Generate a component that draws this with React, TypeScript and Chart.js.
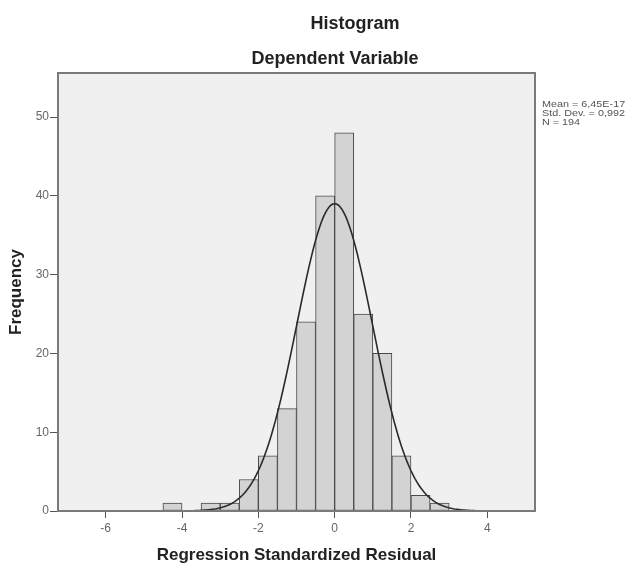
import React, { useEffect, useRef } from "react";
import { Chart, registerables } from "chart.js";

Chart.register(...registerables);

// ---- data ----
const binStarts = [-4.5, -4, -3.5, -3, -2.5, -2, -1.5, -1, -0.5, 0, 0.5, 1, 1.5, 2, 2.5];
const frequencies = [1, 0, 1, 1, 4, 7, 13, 24, 40, 48, 25, 20, 7, 2, 1];
const binWidth = 0.5;
const meanValue = 6.45e-17;
const stdDev = 0.992;
const nCount = 194;
const xTickValues = [-6, -4, -2, 0, 2, 4];
const yTickValues = [0, 10, 20, 30, 40, 50];
const xMin = -7.25;
const xMax = 5.25;
const yMax = 55.6;
const titleLines = ["Histogram", "Dependent Variable"];
const statLines = ["Mean = 6,45E-17", "Std. Dev. = 0,992", "N = 194"];
const xTitle = "Regression Standardized Residual";
const yTitle = "Frequency";

const FONT = "'Liberation Sans', Arial, sans-serif";

export default function App() {
  const ref = useRef<HTMLCanvasElement | null>(null);

  useEffect(() => {
    if (!ref.current) return;
    const barData = binStarts.map((s, i) => ({ x: s + binWidth / 2, y: frequencies[i] }));
    // normal curve defined by the stated mean / sd / N
    const curve: { x: number; y: number }[] = [];
    const steps = 250;
    for (let i = 0; i <= steps; i++) {
      const x = xMin + ((xMax - xMin) * i) / steps;
      const z = (x - meanValue) / stdDev;
      const y = (nCount * binWidth * Math.exp(-0.5 * z * z)) / (stdDev * Math.sqrt(2 * Math.PI));
      curve.push({ x, y });
    }

    const framePlugin = {
      id: "frame",
      beforeDraw(chart: any) {
        const { ctx, chartArea: a } = chart;
        ctx.save();
        ctx.fillStyle = "#ffffff";
        ctx.fillRect(0, 0, chart.width, chart.height);
        ctx.fillStyle = "#f0f0f0";
        ctx.fillRect(a.left, a.top, a.right - a.left, a.bottom - a.top);
        ctx.restore();
      },
      afterDraw(chart: any) {
        const { ctx, chartArea: a } = chart;
        ctx.save();
        ctx.strokeStyle = "#7a7a7a";
        ctx.lineWidth = 2;
        ctx.strokeRect(a.left, a.top, a.right - a.left, a.bottom - a.top);

        ctx.fillStyle = "#222";
        ctx.textAlign = "center";
        ctx.textBaseline = "middle";
        ctx.font = `bold 18px ${FONT}`;
        ctx.fillText(titleLines[0], 355, 24);
        ctx.fillText(titleLines[1], 335, 59);

        ctx.font = `bold 17px ${FONT}`;
        ctx.fillText(xTitle, (a.left + a.right) / 2, 555);
        ctx.save();
        ctx.translate(16, (a.top + a.bottom) / 2);
        ctx.rotate(-Math.PI / 2);
        ctx.fillText(yTitle, 0, 0);
        ctx.restore();

        ctx.fillStyle = "#555";
        ctx.textAlign = "left";
        ctx.font = `9px ${FONT}`;
        statLines.forEach((t, i) => {
          ctx.save();
          ctx.translate(542, 105 + i * 8.6);
          ctx.scale(1.2, 1);
          ctx.fillText(t, 0, 0);
          ctx.restore();
        });
        ctx.restore();
      },
    };

    const chart = new Chart(ref.current, {
      type: "bar",
      data: {
        datasets: [
          {
            type: "line",
            data: curve,
            borderColor: "#2a2a2a",
            borderWidth: 1.6,
            pointRadius: 0,
            tension: 0,
            fill: false,
            order: 0,
          } as any,
          {
            type: "bar",
            data: barData,
            backgroundColor: "#d3d3d3",
            borderColor: "#4a4a4a",
            borderWidth: 1,
            borderSkipped: false,
            barPercentage: 1,
            categoryPercentage: 1,
            order: 1,
          } as any,
        ],
      },
      options: {
        animation: false,
        responsive: false,
        layout: { padding: { top: 73, right: 107, left: 0, bottom: 0 } },
        plugins: { legend: { display: false }, tooltip: { enabled: false }, title: { display: false } },
        scales: {
          x: {
            type: "linear",
            min: xMin,
            max: xMax,
            offset: false,
            grid: { display: true, offset: false, drawOnChartArea: false, drawTicks: true, tickLength: 7, color: "#555" },
            border: { display: false },
            ticks: {
              color: "#666",
              font: { family: FONT, size: 12 },
              padding: 3,
              maxRotation: 0,
              autoSkip: false,
            },
            afterBuildTicks: (scale: any) => {
              scale.ticks = xTickValues.map((v) => ({ value: v }));
            },
            afterFit: (scale: any) => {
              scale.height = 52;
            },
          },
          y: {
            type: "linear",
            min: 0,
            max: yMax,
            grid: { display: true, drawOnChartArea: false, drawTicks: true, tickLength: 8, color: "#555" },
            border: { display: false },
            ticks: {
              color: "#666",
              font: { family: FONT, size: 12 },
              padding: 1,
            },
            afterBuildTicks: (scale: any) => {
              scale.ticks = yTickValues.map((v) => ({ value: v }));
            },
            afterFit: (scale: any) => {
              scale.width = 58;
            },
          },
        },
      },
      plugins: [framePlugin],
    });
    return () => chart.destroy();
  }, []);

  return (
    <div style={{ position: "fixed", left: 0, top: 0, width: 642, height: 563, background: "#fff" }}>
      <canvas ref={ref} width={642} height={563} style={{ display: "block" }} />
    </div>
  );
}
